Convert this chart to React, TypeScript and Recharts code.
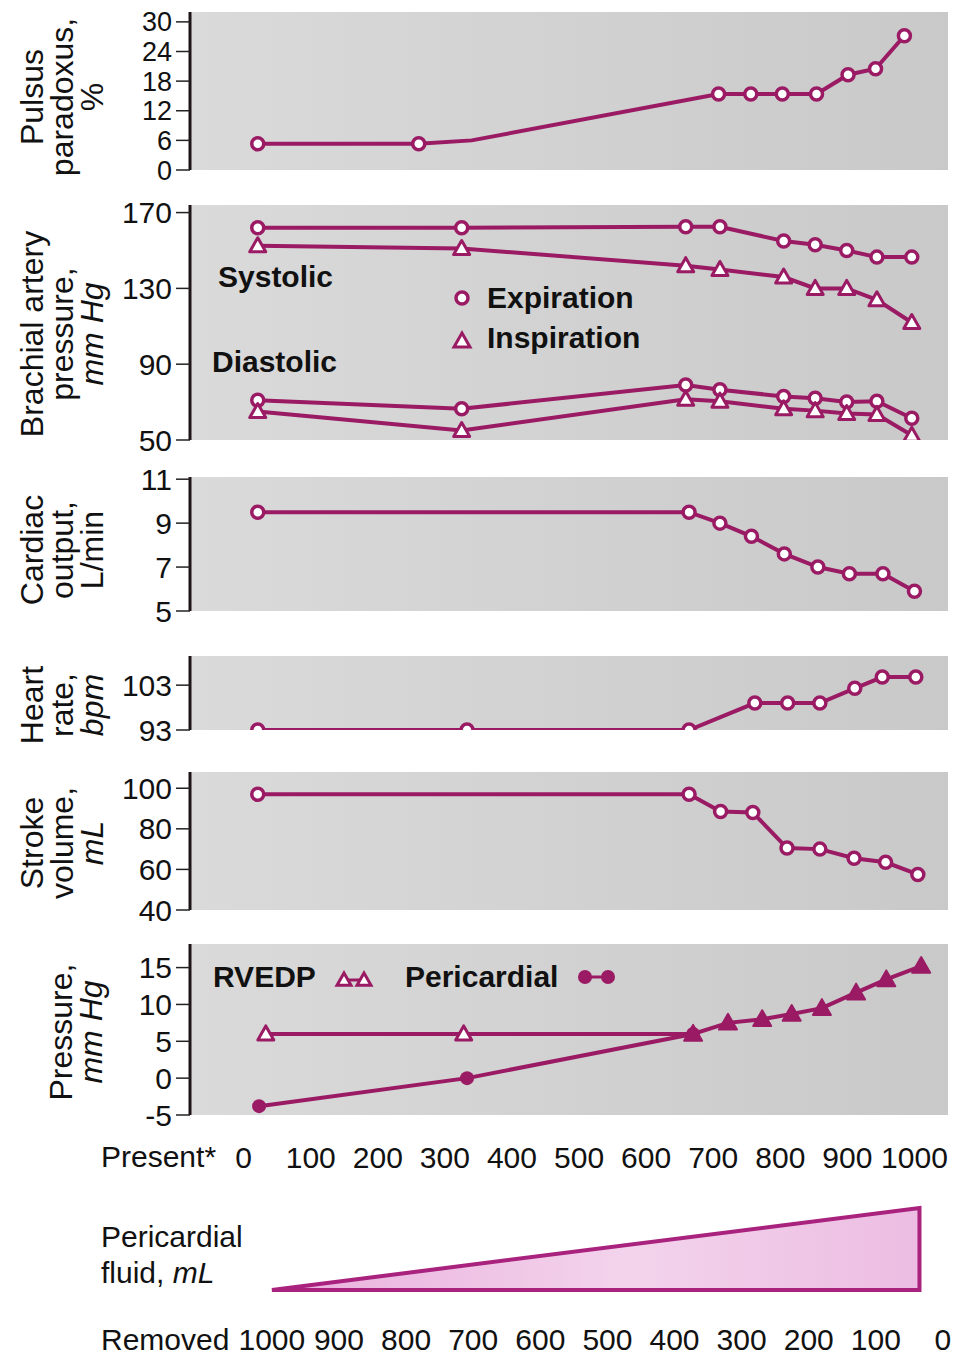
import React from "react";
import { LineChart, Line, XAxis, YAxis, CartesianGrid, ComposedChart, Area } from "recharts";

const LINE = "#9a1a64";
const FLUID = "#a8227e";
const AXIS = "#1c1416";
const FONT = "'Liberation Sans', Arial, Helvetica, sans-serif";
const X_DOMAIN: [number, number] = [-80, 1050];

// Pulsus paradoxus, %
const pulsusX = [21, 261, 340, 708, 756, 803, 854, 901, 942, 985];
const pulsusY = [5.3, 5.3, 6, 15.4, 15.4, 15.4, 15.4, 19.3, 20.5, 27.2];

// Brachial artery pressure, mm Hg
const brachialX = [21, 325, 659, 710, 805, 852, 899, 944, 996];
const sysExp = [162, 162, 162.5, 162.5, 155, 153, 150, 146.5, 146.5];
const sysInsp = [152.5, 151, 142, 140, 136, 130, 130, 124, 112];
const diaExp = [71, 66.5, 79, 76.5, 73, 72, 70, 70.5, 61.5];
const diaInsp = [65, 55, 71.5, 70.5, 66.5, 65.5, 64, 63.5, 52.5];

// Cardiac output, L/min
const coX = [21, 664, 710, 757, 806, 856, 903, 953, 1000];
const coY = [9.5, 9.5, 9.0, 8.4, 7.6, 7.0, 6.7, 6.7, 5.9];

// Heart rate, bpm
const hrX = [21, 333, 664, 762, 811, 859, 911, 952, 1002];
const hrY = [93, 93, 93, 99, 99, 99, 102.3, 104.8, 104.8];

// Stroke volume, mL
const svX = [21, 664, 711, 759, 810, 859, 910, 957, 1005];
const svY = [97, 97, 88.5, 88, 70.5, 70, 65.5, 63.5, 57.5];

// Pressure, mm Hg
const rvedpX = [33, 328, 670, 722, 773, 817, 862, 913, 958, 1010];
const rvedpY = [6, 6, 6, 7.5, 8, 8.7, 9.5, 11.6, 13.4, 15.2];
const periX = [23, 333, 670];
const periY = [-3.8, 0, 6];

// Pericardial fluid triangle (removed scale)
const fluidRemoved = [1000, 35];
const fluidAmount = [0, 1000];
const fluidBorderX = [1000, 35, 35, 1000];
const fluidBorderY = [0, 1000, 0, 0];

const presentTicks = [0, 100, 200, 300, 400, 500, 600, 700, 800, 900, 1000];
const removedTicks = [1000, 900, 800, 700, 600, 500, 400, 300, 200, 100, 0];

const zip = (xs: number[], ys: number[]) => xs.map((x, i) => ({ x, y: ys[i] }));

const OpenCircle = (p: any) => (
  <circle key={`c${p.index}`} cx={p.cx} cy={p.cy} r={6} fill="#fff" stroke={LINE} strokeWidth={3.5} />
);
const tri = (cx: number, cy: number, s = 8) =>
  `M${cx},${cy - s} L${cx - s},${cy + s * 0.75} L${cx + s},${cy + s * 0.75} Z`;
const OpenTri = (p: any) => (
  <path key={`t${p.index}`} d={tri(p.cx, p.cy)} fill="#fff" stroke={LINE} strokeWidth={3} strokeLinejoin="round" />
);
const FilledTri = (p: any) => (
  <path key={`f${p.index}`} d={tri(p.cx, p.cy, 9)} fill={LINE} stroke={LINE} strokeWidth={2} strokeLinejoin="round" />
);
const FilledCircle = (p: any) => (
  <circle key={`p${p.index}`} cx={p.cx} cy={p.cy} r={7} fill={LINE} />
);
const PulsusDot = (p: any) => (p.index === 2 ? <g key="k2" /> : OpenCircle(p));
const RvedpDot = (p: any) => (p.index < 2 ? OpenTri(p) : FilledTri(p));

function Panel({ id, top, boxTop, boxBottom, domain, ticks, fontSize = 30, children }: any) {
  const pad = 22;
  const height = boxBottom - top + pad;
  return (
    <div style={{ position: "absolute", left: 0, top }}>
      <LineChart width={958} height={height} margin={{ top: boxTop - top, right: 10, bottom: pad, left: 0 }}>
        <defs>
          <linearGradient id={`bg${id}`} x1="0" y1="0" x2="1" y2="0">
            <stop offset="0%" stopColor="#dadada" />
            <stop offset="100%" stopColor="#c9c9c9" />
          </linearGradient>
        </defs>
        <CartesianGrid fill={`url(#bg${id})`} horizontal={false} vertical={false} />
        <XAxis type="number" dataKey="x" domain={X_DOMAIN} allowDataOverflow tick={false} tickLine={false}
          height={0} axisLine={{ stroke: AXIS, strokeWidth: 4 }} />
        <YAxis type="number" domain={domain} ticks={ticks} allowDataOverflow interval={0} width={190}
          tickSize={14} tickMargin={4} tick={{ fill: "#111", fontSize, fontFamily: FONT }}
          tickLine={{ stroke: "#222", strokeWidth: 1.5 }} axisLine={{ stroke: AXIS, strokeWidth: 3 }} />
        {children}
      </LineChart>
    </div>
  );
}

const series = (data: any[], dot: any, key: string) => (
  <Line key={key} data={data} dataKey="y" type="linear" stroke={LINE} strokeWidth={4} dot={dot}
    activeDot={false} isAnimationActive={false} />
);

function Title({ lines, cx, cy }: { lines: React.ReactNode[]; cx: number; cy: number }) {
  return (
    <div style={{
      position: "absolute", left: cx, top: cy, transform: "translate(-50%, -50%) rotate(-90deg)",
      fontFamily: FONT, fontSize: 32, lineHeight: "30px", textAlign: "center", whiteSpace: "nowrap", color: "#111",
    }}>
      {lines.map((l, i) => <div key={i}>{l}</div>)}
    </div>
  );
}

function Txt({ x, cy, children, bold = false, size = 30 }: any) {
  return (
    <div style={{
      position: "absolute", left: x, top: cy, transform: "translateY(-50%)", fontFamily: FONT,
      fontSize: size, fontWeight: bold ? 700 : 400, lineHeight: 1, whiteSpace: "nowrap", color: "#111",
    }}>{children}</div>
  );
}

function Icon({ x, cy, w, children }: any) {
  return (
    <svg width={w} height={24} style={{ position: "absolute", left: x, top: cy - 12 }}>{children}</svg>
  );
}

export default function App() {
  return (
    <div style={{ position: "absolute", left: 0, top: 0, width: 958, height: 1362, background: "#fff", overflow: "hidden" }}>
      <Panel id={1} top={0} boxTop={12} boxBottom={170} domain={[0, 32]} ticks={[0, 6, 12, 18, 24, 30]} fontSize={27}>
        {series(zip(pulsusX, pulsusY), PulsusDot, "pp")}
      </Panel>
      <Panel id={2} top={190} boxTop={205} boxBottom={440} domain={[50, 174]} ticks={[50, 90, 130, 170]}>
        {series(zip(brachialX, sysExp), OpenCircle, "se")}
        {series(zip(brachialX, sysInsp), OpenTri, "si")}
        {series(zip(brachialX, diaExp), OpenCircle, "de")}
        {series(zip(brachialX, diaInsp), OpenTri, "di")}
      </Panel>
      <Panel id={3} top={460} boxTop={477} boxBottom={611} domain={[5, 11.1]} ticks={[5, 7, 9, 11]}>
        {series(zip(coX, coY), OpenCircle, "co")}
      </Panel>
      <Panel id={4} top={640} boxTop={656} boxBottom={730} domain={[93, 109.5]} ticks={[93, 103]}>
        {series(zip(hrX, hrY), OpenCircle, "hr")}
      </Panel>
      <Panel id={5} top={755} boxTop={772} boxBottom={910} domain={[40, 108]} ticks={[40, 60, 80, 100]}>
        {series(zip(svX, svY), OpenCircle, "sv")}
      </Panel>
      <Panel id={6} top={930} boxTop={944} boxBottom={1115} domain={[-5, 18.2]} ticks={[-5, 0, 5, 10, 15]}>
        {series(zip(periX, periY), FilledCircle, "pc")}
        {series(zip(rvedpX, rvedpY), RvedpDot, "rv")}
      </Panel>

      <div style={{ position: "absolute", left: 0, top: 1130 }}>
        <ComposedChart width={958} height={232} margin={{ top: 0, right: 10, bottom: 0, left: 190 }}>
          <XAxis xAxisId="present" orientation="top" type="number" dataKey="x" domain={X_DOMAIN} ticks={presentTicks}
            allowDataOverflow interval={0} height={78} tickSize={0} tickMargin={40} tickLine={false} axisLine={false}
            tick={{ fill: "#111", fontSize: 30, fontFamily: FONT }} />
          <XAxis xAxisId="removed" orientation="bottom" type="number" dataKey="x" reversed domain={[-7.5, 1122]}
            allowDataOverflow ticks={removedTicks} interval={0} height={72} tickSize={0} tickMargin={39}
            tickLine={false} axisLine={false} tick={{ fill: "#111", fontSize: 30, fontFamily: FONT }} />
          <YAxis hide type="number" domain={[0, 1000]} />
          <defs>
            <linearGradient id="fluidFill" x1="0" y1="0" x2="1" y2="0">
              <stop offset="0%" stopColor="#e9b0dc" />
              <stop offset="55%" stopColor="#f3d3ec" />
              <stop offset="100%" stopColor="#ecbde2" />
            </linearGradient>
          </defs>
          <Line xAxisId="present" data={presentTicks.map((x) => ({ x, y: 0 }))} dataKey="y" stroke="none"
            dot={false} activeDot={false} isAnimationActive={false} />
          <Area xAxisId="removed" data={zip(fluidRemoved, fluidAmount)} dataKey="y" type="linear"
            fill="url(#fluidFill)" fillOpacity={1} stroke="none" baseValue={0} isAnimationActive={false} />
          <Line xAxisId="removed" data={zip(fluidBorderX, fluidBorderY)} dataKey="y" type="linear"
            stroke={FLUID} strokeWidth={4} strokeLinejoin="miter" dot={false} activeDot={false} isAnimationActive={false} />
        </ComposedChart>
      </div>

      <Title lines={["Pulsus", "paradoxus,", "%"]} cx={62} cy={97} />
      <Title lines={["Brachial artery", "pressure,", <i key="m">mm Hg</i>]} cx={62} cy={334} />
      <Title lines={["Cardiac", "output,", "L/min"]} cx={62} cy={550} />
      <Title lines={["Heart", "rate,", <i key="b">bpm</i>]} cx={62} cy={705} />
      <Title lines={["Stroke", "volume,", <i key="l">mL</i>]} cx={62} cy={843} />
      <Title lines={["Pressure,", <i key="h">mm Hg</i>]} cx={76} cy={1032} />

      <Txt x={218} cy={277} bold>Systolic</Txt>
      <Txt x={212} cy={362} bold>Diastolic</Txt>
      <Icon x={450} cy={298} w={24}><circle cx={12} cy={12} r={6} fill="#fff" stroke={LINE} strokeWidth={3.5} /></Icon>
      <Txt x={487} cy={298} bold>Expiration</Txt>
      <Icon x={450} cy={340} w={24}><path d={tri(12, 13)} fill="#fff" stroke={LINE} strokeWidth={3} /></Icon>
      <Txt x={487} cy={338} bold>Inspiration</Txt>

      <Txt x={213} cy={977} bold>RVEDP</Txt>
      <Icon x={332} cy={978} w={44}>
        <line x1={12} y1={14} x2={32} y2={14} stroke={LINE} strokeWidth={3} />
        <path d={tri(12, 14, 7)} fill="#fff" stroke={LINE} strokeWidth={3} />
        <path d={tri(32, 14, 7)} fill="#fff" stroke={LINE} strokeWidth={3} />
      </Icon>
      <Txt x={405} cy={977} bold>Pericardial</Txt>
      <Icon x={574} cy={977} w={46}>
        <line x1={12} y1={12} x2={34} y2={12} stroke={LINE} strokeWidth={3} />
        <circle cx={11} cy={12} r={7} fill={LINE} />
        <circle cx={34} cy={12} r={7} fill={LINE} />
      </Icon>

      <Txt x={101} cy={1157}>Present*</Txt>
      <Txt x={101} cy={1237}>Pericardial</Txt>
      <Txt x={101} cy={1273}>fluid, <i>mL</i></Txt>
      <Txt x={101} cy={1340}>Removed</Txt>
    </div>
  );
}
